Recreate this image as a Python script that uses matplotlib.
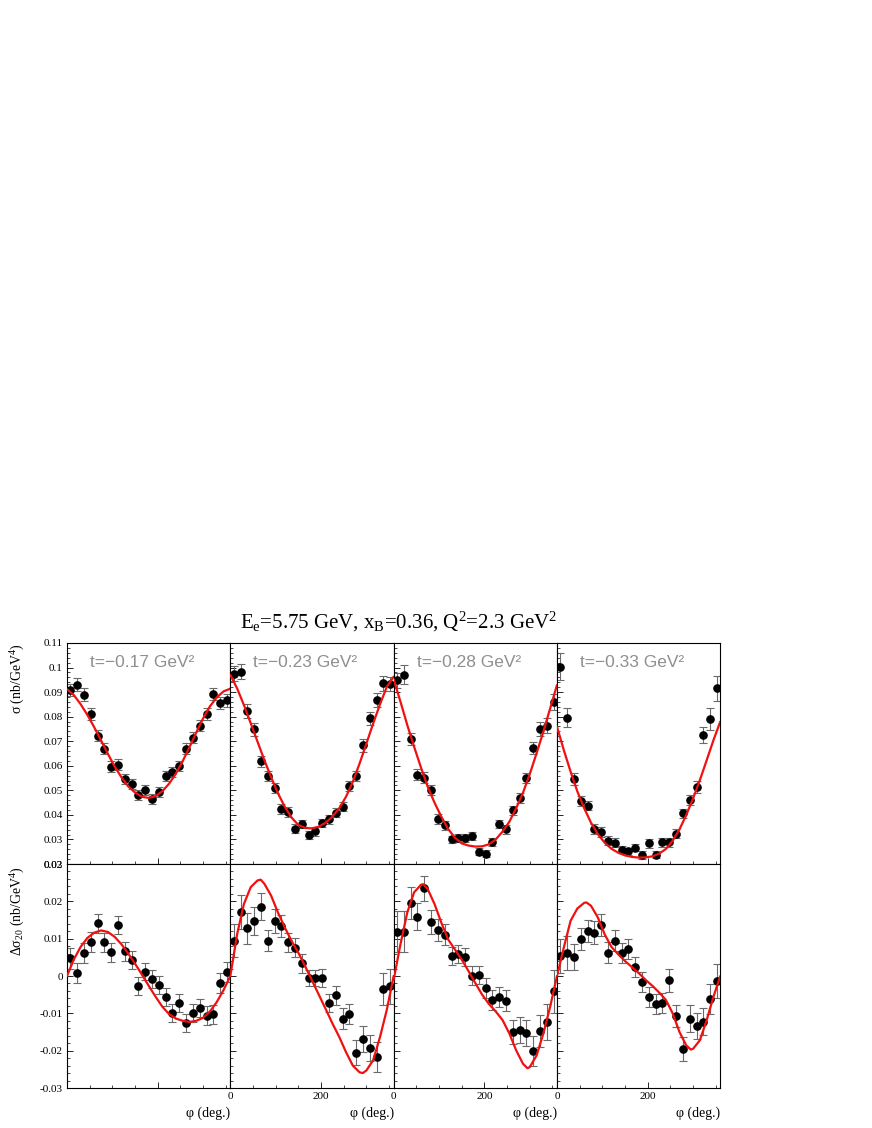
import matplotlib
matplotlib.use("Agg")
import matplotlib.pyplot as plt
import numpy as np
from matplotlib.ticker import FixedLocator, FixedFormatter, MultipleLocator, NullFormatter

plt.rcParams['font.family'] = ['Liberation Serif', 'DejaVu Serif']
plt.rcParams['mathtext.fontset'] = 'custom'
plt.rcParams['mathtext.rm'] = 'Liberation Serif'
plt.rcParams['mathtext.it'] = 'Liberation Serif:italic'

# ---------------- data ----------------
phi = [7.5 + 15 * i for i in range(24)]
phi_fit = [15 * i for i in range(25)]

t_labels = ["t=\u22120.17 GeV\u00b2", "t=\u22120.23 GeV\u00b2", "t=\u22120.28 GeV\u00b2", "t=\u22120.33 GeV\u00b2"]

sig1 = [0.0908, 0.0930, 0.0889, 0.0812, 0.0723, 0.0669, 0.0596, 0.0605, 0.0546, 0.0527, 0.0481, 0.0503,
        0.0464, 0.0493, 0.0557, 0.0574, 0.0599, 0.0669, 0.0714, 0.0764, 0.0811, 0.0891, 0.0855, 0.0866]
sig2 = [0.0975, 0.0983, 0.0824, 0.0748, 0.0618, 0.0558, 0.0509, 0.0425, 0.0412, 0.0343, 0.0363, 0.0318,
        0.0333, 0.0368, 0.0382, 0.0409, 0.0433, 0.0519, 0.0558, 0.0683, 0.0793, 0.0869, 0.0936, 0.0933]
sig3 = [0.0948, 0.0971, 0.0708, 0.0564, 0.0552, 0.0501, 0.0383, 0.0357, 0.0300, 0.0305, 0.0306, 0.0314,
        0.0250, 0.0242, 0.0290, 0.0363, 0.0341, 0.0419, 0.0469, 0.0550, 0.0674, 0.0750, 0.0763, 0.0861]
sig4 = [0.1003, 0.0796, 0.0545, 0.0457, 0.0438, 0.0341, 0.0330, 0.0294, 0.0286, 0.0258, 0.0252, 0.0267,
        0.0237, 0.0284, 0.0238, 0.0288, 0.0288, 0.0324, 0.0406, 0.0461, 0.0515, 0.0725, 0.0792, 0.0915]

esig1 = [0.0025, 0.0027, 0.0027, 0.0025, 0.0024, 0.0023, 0.0022, 0.0022, 0.0021, 0.0020, 0.0020, 0.0020,
         0.0020, 0.0020, 0.0020, 0.0021, 0.0022, 0.0023, 0.0023, 0.0024, 0.0025, 0.0025, 0.0025, 0.0025]
esig2 = [0.0030, 0.0030, 0.0028, 0.0025, 0.0023, 0.0022, 0.0021, 0.0020, 0.0019, 0.0018, 0.0018, 0.0017,
         0.0017, 0.0017, 0.0018, 0.0018, 0.0019, 0.0021, 0.0022, 0.0025, 0.0026, 0.0028, 0.0030, 0.0030]
esig3 = [0.0030, 0.0040, 0.0025, 0.0022, 0.0022, 0.0021, 0.0019, 0.0018, 0.0016, 0.0016, 0.0016, 0.0016,
         0.0015, 0.0015, 0.0016, 0.0018, 0.0017, 0.0018, 0.0020, 0.0022, 0.0024, 0.0027, 0.0030, 0.0032]
esig4 = [0.0055, 0.0038, 0.0025, 0.0020, 0.0020, 0.0020, 0.0020, 0.0018, 0.0018, 0.0015, 0.0015, 0.0015,
         0.0015, 0.0018, 0.0015, 0.0018, 0.0018, 0.0020, 0.0020, 0.0022, 0.0025, 0.0032, 0.0045, 0.0050]

fit_s1 = [0.0912, 0.0888, 0.0851, 0.0807, 0.0757, 0.0703, 0.0649, 0.0597, 0.0553, 0.0516, 0.0491, 0.0474, 0.0469,
          0.0476, 0.0496, 0.0527, 0.0568, 0.0619, 0.0676, 0.0736, 0.0793, 0.0842, 0.0878, 0.0903, 0.0914]
fit_s2 = [0.0970, 0.0915, 0.0847, 0.0773, 0.0698, 0.0623, 0.0553, 0.0488, 0.0433, 0.0389, 0.0359, 0.0347, 0.0345,
          0.0352, 0.0368, 0.0393, 0.0427, 0.0474, 0.0535, 0.0610, 0.0691, 0.0773, 0.0851, 0.0922, 0.0963]
fit_s3 = [0.0952, 0.0861, 0.0766, 0.0678, 0.0594, 0.0515, 0.0450, 0.0393, 0.0343, 0.0307, 0.0284, 0.0275, 0.0271,
          0.0272, 0.0280, 0.0300, 0.0332, 0.0372, 0.0427, 0.0490, 0.0566, 0.0651, 0.0739, 0.0834, 0.0929]
fit_s4 = [0.0759, 0.0664, 0.0576, 0.0495, 0.0427, 0.0368, 0.0322, 0.0287, 0.0262, 0.0246, 0.0235, 0.0229, 0.0226,
          0.0227, 0.0231, 0.0242, 0.0261, 0.0295, 0.0341, 0.0400, 0.0467, 0.0542, 0.0623, 0.0705, 0.0780]

dsig1 = [0.0047, 0.0007, 0.0061, 0.0090, 0.0141, 0.0090, 0.0063, 0.0137, 0.0066, 0.0044, -0.0028, 0.0012,
         -0.0007, -0.0025, -0.0056, -0.0099, -0.0072, -0.0126, -0.0099, -0.0086, -0.0106, -0.0103, -0.0018, 0.0010]
dsig2 = [0.0095, 0.0172, 0.0128, 0.0147, 0.0186, 0.0095, 0.0147, 0.0134, 0.0090, 0.0076, 0.0034, -0.0005,
         -0.0005, -0.0005, -0.0072, -0.0052, -0.0114, -0.0101, -0.0205, -0.0168, -0.0193, -0.0218, -0.0035, -0.0028]
dsig3 = [0.0118, 0.0118, 0.0195, 0.0159, 0.0235, 0.0145, 0.0124, 0.0111, 0.0054, 0.0059, 0.0051, 0.0001,
         0.0003, -0.0032, -0.0064, -0.0057, -0.0066, -0.0150, -0.0145, -0.0152, -0.0200, -0.0147, -0.0123, -0.0041]
dsig4 = [0.0053, 0.0061, 0.0050, 0.0099, 0.0120, 0.0116, 0.0136, 0.0062, 0.0094, 0.0062, 0.0073, 0.0023,
         -0.0017, -0.0056, -0.0074, -0.0073, -0.0012, -0.0107, -0.0195, -0.0114, -0.0133, -0.0122, -0.0062, -0.0014]

edsig1 = [0.0028, 0.0027, 0.0027, 0.0027, 0.0026, 0.0026, 0.0025, 0.0025, 0.0025, 0.0024, 0.0024, 0.0024,
          0.0024, 0.0024, 0.0024, 0.0024, 0.0025, 0.0025, 0.0025, 0.0025, 0.0026, 0.0026, 0.0027, 0.0027]
edsig2 = [0.0045, 0.0045, 0.0042, 0.0037, 0.0036, 0.0028, 0.0033, 0.0030, 0.0025, 0.0025, 0.0025, 0.0022,
          0.0022, 0.0025, 0.0025, 0.0025, 0.0027, 0.0027, 0.0033, 0.0035, 0.0035, 0.0040, 0.0043, 0.0046]
edsig3 = [0.0055, 0.0055, 0.0043, 0.0037, 0.0034, 0.0033, 0.0029, 0.0028, 0.0025, 0.0025, 0.0025, 0.0025,
          0.0025, 0.0026, 0.0027, 0.0027, 0.0028, 0.0032, 0.0034, 0.0035, 0.0040, 0.0042, 0.0048, 0.0058]
edsig4 = [0.0045, 0.0045, 0.0035, 0.0030, 0.0030, 0.0030, 0.0030, 0.0028, 0.0028, 0.0027, 0.0027, 0.0027,
          0.0027, 0.0027, 0.0027, 0.0027, 0.0030, 0.0030, 0.0032, 0.0035, 0.0035, 0.0035, 0.0040, 0.0045]

# fit curves of the bottom row, read at the listed phi values (peaks/dips added)
phi_fit_d1 = [0, 15, 30, 45, 60, 75, 90, 105, 120, 135, 150, 165, 180, 195, 210, 225, 240, 255, 270, 285, 300,
              315, 330, 345, 360]
fit_d1 = [0.0, 0.0044, 0.0078, 0.0102, 0.0116, 0.0122, 0.0118, 0.0105, 0.0085, 0.0060, 0.0033, 0.0004, -0.0026,
          -0.0055, -0.0082, -0.0102, -0.0114, -0.0120, -0.0123, -0.0120, -0.0112, -0.0095, -0.0070, -0.0038, 0.0]
phi_fit_d2 = [0, 15, 30, 45, 60, 67, 75, 90, 105, 120, 135, 150, 165, 180, 195, 210, 225, 240, 255, 270, 285, 292,
              300, 315, 330, 345, 360]
fit_d2 = [0.0, 0.0112, 0.0193, 0.0238, 0.0256, 0.0258, 0.0247, 0.0215, 0.0170, 0.0130, 0.0094, 0.0062, 0.0026,
          -0.0012, -0.0050, -0.0088, -0.0127, -0.0163, -0.0204, -0.0240, -0.0258, -0.0260, -0.0253, -0.0225,
          -0.0163, -0.0090, 0.0]
phi_fit_d3 = [0, 15, 30, 45, 60, 65, 75, 90, 105, 120, 135, 150, 165, 180, 195, 210, 225, 240, 255, 270, 285, 295,
              300, 315, 330, 345, 360]
fit_d3 = [-0.0010, 0.0085, 0.0170, 0.0224, 0.0244, 0.0246, 0.0233, 0.0193, 0.0143, 0.0098, 0.0071, 0.0044, 0.0013,
          -0.0019, -0.0050, -0.0075, -0.0095, -0.0118, -0.0154, -0.0199, -0.0235, -0.0247, -0.0244, -0.0213,
          -0.0154, -0.0082, 0.0]
phi_fit_d4 = [0, 15, 30, 45, 60, 65, 75, 90, 105, 120, 135, 150, 165, 180, 195, 210, 225, 240, 255, 270, 285, 295,
              300, 315, 330, 345, 360]
fit_d4 = [0.0, 0.0076, 0.0148, 0.0181, 0.0196, 0.0197, 0.0188, 0.0157, 0.0112, 0.0078, 0.0058, 0.0040, 0.0024,
          0.0008, -0.0010, -0.0026, -0.0044, -0.0064, -0.0100, -0.0150, -0.0186, -0.0197, -0.0195, -0.0172,
          -0.0118, -0.0055, 0.0]

top_ticks = [0.02, 0.03, 0.04, 0.05, 0.06, 0.07, 0.08, 0.09, 0.10, 0.11]
top_ticklabels = ["0.02", "0.03", "0.04", "0.05", "0.06", "0.07", "0.08", "0.09", "0.1", "0.11"]
bot_ticks = [-0.03, -0.02, -0.01, 0.0, 0.01, 0.02, 0.03]
bot_ticklabels = ["-0.03", "-0.02", "-0.01", "0", "0.01", "0.02", "0.03"]
x_ticks = [0, 200]
x_ticklabels = ["0", "200"]

sig_data = [(sig1, esig1, phi_fit, fit_s1), (sig2, esig2, phi_fit, fit_s2),
            (sig3, esig3, phi_fit, fit_s3), (sig4, esig4, phi_fit, fit_s4)]
dsig_data = [(dsig1, edsig1, phi_fit_d1, fit_d1), (dsig2, edsig2, phi_fit_d2, fit_d2),
             (dsig3, edsig3, phi_fit_d3, fit_d3), (dsig4, edsig4, phi_fit_d4, fit_d4)]

# ---------------- layout ----------------
W, H = 872, 1128
fig = plt.figure(figsize=(W / 100, H / 100), dpi=100)

left0 = 67.0
pw = 163.33
row_top = [643.0, 864.0]
row_bot = [864.0, 1088.0]


def style_axis(ax):
    for s in ax.spines.values():
        s.set_linewidth(0.8)
        s.set_color('black')
    ax.tick_params(which='both', direction='in', top=False, right=False, labelsize=8, pad=3)
    ax.tick_params(which='major', length=4, width=0.6)
    ax.tick_params(which='minor', length=2, width=0.5)
    ax.xaxis.set_major_locator(FixedLocator(x_ticks))
    ax.xaxis.set_minor_locator(MultipleLocator(50))


for r in range(2):
    for c in range(4):
        x0 = (left0 + c * pw) / W
        y0 = 1 - row_bot[r] / H
        h = (row_bot[r] - row_top[r]) / H
        ax = fig.add_axes([x0, y0, pw / W, h])
        style_axis(ax)
        ax.set_xlim(0, 360)
        if r == 0:
            vals, errs, pf, fit = sig_data[c]
            ax.set_ylim(0.02, 0.11)
            ax.yaxis.set_major_locator(FixedLocator(top_ticks))
            ax.yaxis.set_minor_locator(MultipleLocator(0.002))
            if c == 0:
                ax.yaxis.set_major_formatter(FixedFormatter(top_ticklabels))
            else:
                ax.yaxis.set_major_formatter(NullFormatter())
            ax.xaxis.set_major_formatter(NullFormatter())
            ax.text(23 / pw, (row_bot[0] - 667) / (row_bot[0] - row_top[0]), t_labels[c],
                    transform=ax.transAxes, ha='left', va='baseline', fontsize=12.5,
                    family=['Liberation Sans', 'DejaVu Sans'], color='#8f8f8f')
        else:
            vals, errs, pf, fit = dsig_data[c]
            ax.set_ylim(-0.03, 0.03)
            ax.yaxis.set_major_locator(FixedLocator(bot_ticks))
            ax.yaxis.set_minor_locator(MultipleLocator(0.002))
            if c == 0:
                ax.yaxis.set_major_formatter(FixedFormatter(bot_ticklabels))
                ax.xaxis.set_major_formatter(NullFormatter())
            else:
                ax.yaxis.set_major_formatter(NullFormatter())
                ax.xaxis.set_major_formatter(FixedFormatter(x_ticklabels))
            ax.text(1.0, -(1113 - row_bot[1]) / (row_bot[1] - row_top[1]), "\u03c6 (deg.)",
                    transform=ax.transAxes, ha='right', va='center', fontsize=10)
        ax.errorbar(phi, vals, yerr=errs, fmt='none', ecolor='#6a6a6a', elinewidth=0.8,
                    capsize=3, capthick=0.8, zorder=2)
        ax.plot(phi, vals, 'o', color='black', markersize=5.2, zorder=3)
        ax.plot(pf, fit, '-', color='#f01010', linewidth=1.6, zorder=4,
                solid_joinstyle='round', solid_capstyle='round')

fig.text(18 / W, 1 - 643 / H, "\u03c3 (nb/GeV$^4$)", rotation=90, ha='center', va='top', fontsize=10)
fig.text(18 / W, 1 - 866 / H, "\u0394\u03c3$_{20}$ (nb/GeV$^4$)", rotation=90, ha='center', va='top', fontsize=10)
fig.text(399 / W, 1 - 628 / H, r"E$_{\rm e}$=5.75 GeV, x$_{\rm B}$=0.36, Q$^2$=2.3 GeV$^2$",
         ha='center', va='baseline', fontsize=15)

fig.savefig("out.png", dpi=100)
